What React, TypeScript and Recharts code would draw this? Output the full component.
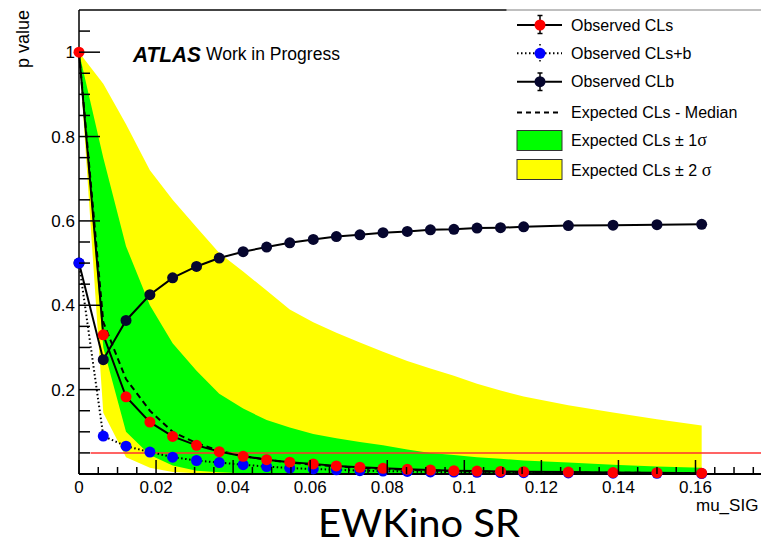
import {
  ComposedChart,
  Area,
  Line,
  XAxis,
  YAxis,
  ReferenceLine,
  Legend,
  Customized,
} from "recharts";

// scan points of mu_SIG
const muValues = [
  0, 0.0063, 0.0122, 0.0184, 0.0243, 0.0305, 0.0364, 0.0426, 0.0487, 0.0547,
  0.0608, 0.0668, 0.0729, 0.0789, 0.0852, 0.0912, 0.0973, 0.1033, 0.1094,
  0.1154, 0.127, 0.1386, 0.15, 0.1616,
];
const clsObs = [
  1, 0.33, 0.183, 0.123, 0.089, 0.068, 0.053, 0.042, 0.034, 0.028, 0.024,
  0.019, 0.016, 0.0135, 0.011, 0.0095, 0.008, 0.007, 0.006, 0.0055, 0.0045,
  0.0035, 0.003, 0.002,
];
const clsbObs = [
  0.5, 0.09, 0.066, 0.052, 0.04, 0.032, 0.027, 0.022, 0.0175, 0.014, 0.012,
  0.01, 0.008, 0.007, 0.006, 0.005, 0.0045, 0.004, 0.0035, 0.003, 0.0025,
  0.002, 0.0015, 0.001,
];
const clbObs = [
  0.5, 0.271, 0.364, 0.425, 0.465, 0.492, 0.512, 0.527, 0.538, 0.548, 0.556,
  0.563, 0.567, 0.572, 0.575, 0.579, 0.58, 0.583, 0.584, 0.586, 0.589, 0.59,
  0.591, 0.592,
];
const expMedian = [
  1, 0.36, 0.225, 0.15, 0.1, 0.073, 0.055, 0.043, 0.034, 0.027, 0.022, 0.018,
  0.015, 0.012, 0.01, 0.008, 0.007, 0.006, 0.005, 0.0045, 0.0035, 0.003,
  0.0025, 0.002,
];
const exp1Lo = [
  1, 0.3, 0.1, 0.045, 0.02, 0.008, 0.004, 0.002, 0.001, 0.001, 0.001, 0.001,
  0.001, 0.001, 0.001, 0.001, 0.001, 0.001, 0.001, 0.001, 0.001, 0.001, 0.001,
  0.001,
];
const exp1Hi = [
  1, 0.75, 0.54, 0.4, 0.31, 0.245, 0.19, 0.155, 0.128, 0.11, 0.095, 0.085,
  0.076, 0.068, 0.058, 0.05, 0.045, 0.04, 0.036, 0.032, 0.027, 0.022, 0.018,
  0.015,
];
const exp2Lo = [
  1, 0.145, 0.04, 0.015, 0.005, 0.002, 0.001, 0, 0, 0, 0, 0, 0, 0, 0, 0, 0, 0,
  0, 0, 0, 0, 0, 0,
];
const exp2Hi = [
  1, 0.925, 0.829, 0.72, 0.65, 0.585, 0.524, 0.48, 0.435, 0.39, 0.36, 0.335,
  0.312, 0.29, 0.268, 0.25, 0.233, 0.214, 0.198, 0.184, 0.163, 0.146, 0.13,
  0.115,
];

const xMajorTicks = [0, 0.02, 0.04, 0.06, 0.08, 0.1, 0.12, 0.14, 0.16];
const xMinorTicks = [
  0.005, 0.01, 0.015, 0.025, 0.03, 0.035, 0.045, 0.05, 0.055, 0.065, 0.07,
  0.075, 0.085, 0.09, 0.095, 0.105, 0.11, 0.115, 0.125, 0.13, 0.135, 0.145,
  0.15, 0.155, 0.165, 0.17, 0.175,
];
const yMajorTicks = [0.2, 0.4, 0.6, 0.8, 1];
const yMinorTicks = [
  0.05, 0.1, 0.15, 0.25, 0.3, 0.35, 0.45, 0.5, 0.55, 0.65, 0.7, 0.75, 0.85,
  0.9, 0.95, 1.05,
];
const cutLevel = 0.05;

const data = muValues.map((mu, i) => ({
  mu,
  cls: clsObs[i],
  clsb: clsbObs[i],
  clb: clbObs[i],
  med: expMedian[i],
  band1: [exp1Lo[i], exp1Hi[i]],
  band2: [exp2Lo[i], exp2Hi[i]],
}));

const FONT = "'Liberation Sans', Arial, Helvetica, sans-serif";

function XTick({ x, y, payload }: any) {
  const v = payload.value;
  const major = xMajorTicks.includes(v);
  return (
    <g>
      <line x1={x} x2={x} y1={y} y2={y - (major ? 14 : 7)} stroke="#000" strokeWidth={1.5} />
      {major && (
        <text x={x} y={y + 19} textAnchor="middle" fontSize={17} fontFamily={FONT} fill="#000">
          {String(v)}
        </text>
      )}
    </g>
  );
}

function YTick({ x, y, payload }: any) {
  const v = payload.value;
  const major = yMajorTicks.includes(v);
  return (
    <g>
      <line x1={x} x2={x + (major ? 21 : 11)} y1={y} y2={y} stroke="#000" strokeWidth={1.5} />
      {major && (
        <text x={x - 4} y={y + 6} textAnchor="end" fontSize={17} fontFamily={FONT} fill="#000">
          {String(v)}
        </text>
      )}
    </g>
  );
}

function LegendBox() {
  const tx = 571;
  return (
    <svg width={254} height={190} style={{ display: "block" }}>
      <g transform="translate(-507,0)" fontFamily={FONT} fontSize={16} fill="#000">
        {/* Observed CLs */}
        <line x1={517} x2={562} y1={25} y2={25} stroke="#000" strokeWidth={2} />
        <line x1={540} x2={540} y1={15.5} y2={33.5} stroke="#000" strokeWidth={1.5} />
        <line x1={537.5} x2={542.5} y1={15.5} y2={15.5} stroke="#000" strokeWidth={1.5} />
        <line x1={537.5} x2={542.5} y1={33.5} y2={33.5} stroke="#000" strokeWidth={1.5} />
        <circle cx={540} cy={25} r={5.5} fill="#ff0000" />
        <text x={tx} y={30.7}>Observed CLs</text>
        {/* Observed CLs+b */}
        <line x1={517} x2={562} y1={53.3} y2={53.3} stroke="#000" strokeWidth={2} strokeDasharray="1.5 2.5" />
        <line x1={540} x2={540} y1={44} y2={62.5} stroke="#000" strokeWidth={1.5} strokeDasharray="1.5 2.5" />
        <circle cx={540} cy={53.3} r={5.5} fill="#0000ff" />
        <text x={tx} y={58.6}>Observed CLs+b</text>
        {/* Observed CLb */}
        <line x1={517} x2={562} y1={81.7} y2={81.7} stroke="#000" strokeWidth={2} />
        <line x1={540} x2={540} y1={73} y2={90.5} stroke="#000" strokeWidth={1.5} />
        <line x1={537.5} x2={542.5} y1={73} y2={73} stroke="#000" strokeWidth={1.5} />
        <line x1={537.5} x2={542.5} y1={90.5} y2={90.5} stroke="#000" strokeWidth={1.5} />
        <circle cx={540} cy={81.7} r={5.5} fill="#06062e" />
        <text x={tx} y={87.2}>Observed CLb</text>
        {/* median */}
        <line x1={517} x2={562} y1={112.5} y2={112.5} stroke="#000" strokeWidth={2} strokeDasharray="5 4" />
        <text x={tx} y={118.3}>Expected CLs - Median</text>
        {/* bands */}
        <rect x={517} y={130.5} width={45} height={20} fill="#00ff00" stroke="#333" strokeWidth={1} />
        <text x={tx} y={146}>
          Expected CLs ± 1
          <tspan fontFamily="'Liberation Serif', 'DejaVu Serif', serif" fontSize={18}>σ</tspan>
        </text>
        <rect x={517} y={159.5} width={45} height={20} fill="#ffff00" stroke="#333" strokeWidth={1} />
        <text x={tx} y={175.7}>
          Expected CLs ± 2{" "}
          <tspan fontFamily="'Liberation Serif', 'DejaVu Serif', serif" fontSize={18}>σ</tspan>
        </text>
      </g>
    </svg>
  );
}

function Captions() {
  return (
    <g>
      <text
        transform="translate(29,10) rotate(-90)"
        textAnchor="end"
        fontSize={18}
        fontFamily={FONT}
        fill="#000"
      >
        p value
      </text>
      <text
        x={133}
        y={62}
        fontSize={21.5}
        fontWeight="bold"
        fontStyle="italic"
        fontFamily={FONT}
        textLength={68}
        lengthAdjust="spacingAndGlyphs"
        fill="#000"
      >
        ATLAS
      </text>
      <text x={206} y={60} fontSize={17.5} fontFamily={FONT} fill="#000">
        Work in Progress
      </text>
      <text x={696} y={511} fontSize={17} fontFamily={FONT} fill="#000">
        mu_SIG
      </text>
      <text
        x={318}
        y={536.5}
        fontSize={38}
        fontFamily="Lato, 'Open Sans', sans-serif"
        textLength={202}
        lengthAdjust="spacingAndGlyphs"
        fill="#000"
      >
        EWKino SR
      </text>
    </g>
  );
}

export default function App() {
  return (
    <div style={{ position: "absolute", left: 0, top: 0, width: 761, height: 545, background: "#fff" }}>
      <ComposedChart
        width={761}
        height={545}
        data={data}
        margin={{ top: 10, right: 0, bottom: 41, left: 0 }}
      >
        <XAxis
          dataKey="mu"
          type="number"
          domain={[0, 0.177]}
          ticks={[...xMajorTicks, ...xMinorTicks]}
          interval={0}
          tickSize={0}
          tickMargin={0}
          tickLine={false}
          tick={XTick}
          height={30}
          axisLine={{ stroke: "#000", strokeWidth: 2 }}
        />
        <YAxis
          type="number"
          domain={[0, 1.1]}
          ticks={[...yMajorTicks, ...yMinorTicks]}
          interval={0}
          tickSize={0}
          tickMargin={0}
          tickLine={false}
          tick={YTick}
          width={79}
          axisLine={{ stroke: "#000", strokeWidth: 1.5 }}
        />
        <ReferenceLine
          segment={[{ x: 0, y: 1.1 }, { x: 0.111, y: 1.1 }]}
          stroke="#444"
          strokeWidth={2}
        />
        <ReferenceLine
          segment={[{ x: 0.111, y: 1.1 }, { x: 0.177, y: 1.1 }]}
          stroke="#aaa"
          strokeWidth={1.5}
        />
        <Area
          dataKey="band2"
          type="linear"
          stroke="none"
          fill="#ffff00"
          fillOpacity={1}
          isAnimationActive={false}
          activeDot={false}
        />
        <Area
          dataKey="band1"
          type="linear"
          stroke="none"
          fill="#00ff00"
          fillOpacity={1}
          isAnimationActive={false}
          activeDot={false}
        />
        <Line
          dataKey="med"
          type="linear"
          stroke="#000"
          strokeWidth={2}
          strokeDasharray="6 4"
          dot={false}
          activeDot={false}
          isAnimationActive={false}
        />
        <ReferenceLine
          segment={[{ x: 0.003, y: cutLevel }, { x: 0.177, y: cutLevel }]}
          stroke="#ff3030"
          strokeWidth={1.5}
        />
        <Line
          dataKey="clb"
          type="linear"
          stroke="#000"
          strokeWidth={2}
          dot={{ r: 5.5, fill: "#06062e", stroke: "none" }}
          activeDot={false}
          isAnimationActive={false}
        />
        <Line
          dataKey="clsb"
          type="linear"
          stroke="#000"
          strokeWidth={2}
          strokeDasharray="1.5 2.5"
          dot={{ r: 5.5, fill: "#0000ff", stroke: "none" }}
          activeDot={false}
          isAnimationActive={false}
        />
        <Line
          dataKey="cls"
          type="linear"
          stroke="#000"
          strokeWidth={2}
          dot={{ r: 5.5, fill: "#ff0000", stroke: "none" }}
          activeDot={false}
          isAnimationActive={false}
        />
        <Legend
          layout="vertical"
          align="center"
          verticalAlign="middle"
          content={() => <LegendBox />}
          wrapperStyle={{ left: 507, top: 0, width: 254, height: 190 }}
        />
        <Customized component={Captions} />
      </ComposedChart>
    </div>
  );
}
